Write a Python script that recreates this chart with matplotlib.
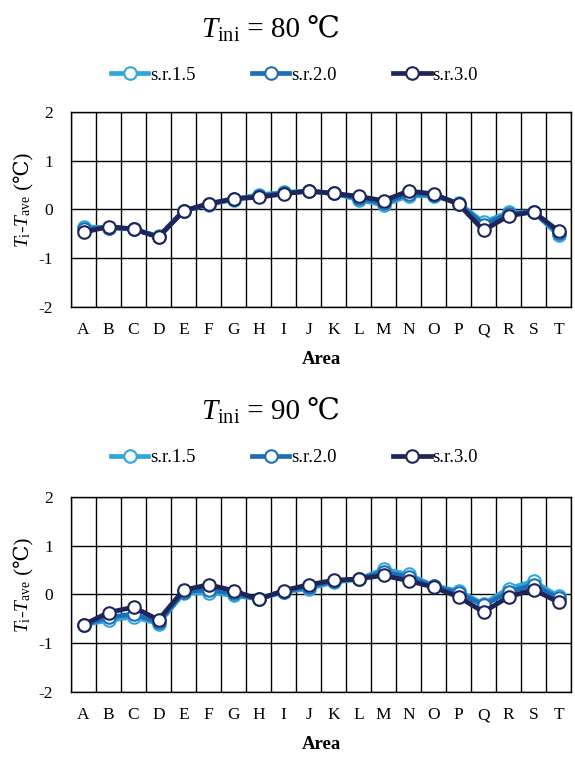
import matplotlib
matplotlib.use("Agg")
import matplotlib.pyplot as plt
from matplotlib.lines import Line2D
import numpy as np

plt.rcParams['font.family'] = ['Liberation Serif', 'DejaVu Serif', 'DejaVu Sans']
plt.rcParams['mathtext.fontset'] = 'custom'
plt.rcParams['mathtext.rm'] = 'Liberation Serif'
plt.rcParams['mathtext.it'] = 'Liberation Serif:italic'
plt.rcParams['mathtext.bf'] = 'Liberation Serif:bold'

areas = list("ABCDEFGHIJKLMNOPQRST")
series_names = ["s.r.1.5", "s.r.2.0", "s.r.3.0"]
colors = ["#2EA7DF", "#1F6DB5", "#1E2559"]

t80_sr15 = [-0.35, -0.38, -0.40, -0.55, -0.03, 0.10, 0.20, 0.30, 0.35, 0.38, 0.33, 0.20, 0.09, 0.28, 0.28, 0.13, -0.26, -0.06, -0.05, -0.53]
t80_sr20 = [-0.40, -0.37, -0.40, -0.56, -0.03, 0.11, 0.21, 0.28, 0.33, 0.37, 0.33, 0.23, 0.13, 0.32, 0.30, 0.12, -0.31, -0.09, -0.05, -0.48]
t80_sr30 = [-0.47, -0.35, -0.40, -0.57, -0.03, 0.12, 0.22, 0.25, 0.32, 0.38, 0.33, 0.27, 0.18, 0.38, 0.32, 0.11, -0.43, -0.13, -0.05, -0.44]

t90_sr15 = [-0.62, -0.53, -0.46, -0.60, 0.02, 0.04, -0.02, -0.09, 0.05, 0.12, 0.25, 0.31, 0.52, 0.41, 0.18, 0.07, -0.19, 0.12, 0.27, -0.04]
t90_sr20 = [-0.62, -0.47, -0.40, -0.57, 0.05, 0.10, 0.02, -0.09, 0.06, 0.16, 0.27, 0.32, 0.46, 0.36, 0.17, 0.03, -0.22, 0.05, 0.20, -0.08]
t90_sr30 = [-0.62, -0.37, -0.26, -0.52, 0.09, 0.20, 0.08, -0.10, 0.08, 0.20, 0.29, 0.32, 0.39, 0.28, 0.15, -0.05, -0.36, -0.05, 0.10, -0.16]

yticks = [-2, -1, 0, 1, 2]
temps = ["80", "90"]

fig = plt.figure(figsize=(5.75, 7.58), dpi=100)

panels = [
    (temps[0], [t80_sr15, t80_sr20, t80_sr30], 0.595, 0.96, 0.901),
    (temps[1], [t90_sr15, t90_sr20, t90_sr30], 0.0871, 0.456, 0.396),
]

x = np.arange(len(areas))
for temp, data, bottom, ty, ly in panels:
    ax = fig.add_axes([0.1235, bottom, 0.8696, 0.2573])
    for vals, c, name in zip(data, colors, series_names):
        ax.plot(x, vals, color=c, lw=3.4, marker='o', ms=9, mfc='white',
                mec=c, mew=1.5, label=name, solid_capstyle='round')
    ax.set_xlim(-0.5, len(areas) - 0.5)
    ax.set_ylim(-2, 2)
    ax.set_yticks(yticks)
    ax.set_yticklabels([str(v) for v in yticks], fontsize=12.5)
    ax.set_xticks(x)
    ax.set_xticklabels(areas, fontsize=12.5)
    ax.set_xticks(np.arange(-0.5, len(areas), 1), minor=True)
    ax.tick_params(axis='x', which='both', length=0, pad=11)
    ax.tick_params(axis='y', which='both', length=0, pad=13)
    ax.grid(True, which='minor', axis='x', color='black', lw=1.0)
    ax.grid(True, which='major', axis='y', color='black', lw=1.0)
    ax.grid(False, which='major', axis='x')
    for s in ax.spines.values():
        s.set_visible(True)
        s.set_color('black')
        s.set_linewidth(1.0)
    ax.set_axisbelow(True)
    ax.set_xlabel("Area", fontsize=13.5, fontweight='bold', labelpad=9)
    # y label in two parts so that the ℃ sign uses a font that has it
    ax.text(-0.095, 0.574, r"$T_\mathrm{i}$-$T_\mathrm{ave}$", transform=ax.transAxes,
            rotation=90, rotation_mode='anchor', ha='right', va='center', fontsize=14)
    ax.text(-0.095, 0.574, " (℃)", transform=ax.transAxes,
            rotation=90, rotation_mode='anchor', ha='left', va='center', fontsize=15)
    # title in two parts
    fig.text(0.418, ty, r"$T_\mathrm{ini}$", ha='right', va='center', fontsize=21)
    fig.text(0.418, ty, " = " + temp + " ℃", ha='left', va='center', fontsize=21)
    handles = [Line2D([0], [0], color=c, lw=3.4, marker='o', ms=9, mfc='white', mec=c, mew=1.5)
               for c in colors]
    fig.legend(handles, series_names, loc='center', bbox_to_anchor=(0.512, ly), ncol=3,
               frameon=False, fontsize=13.5, handlelength=2.0, columnspacing=3.0, handletextpad=0.1)

fig.savefig("out.png", dpi=100)
